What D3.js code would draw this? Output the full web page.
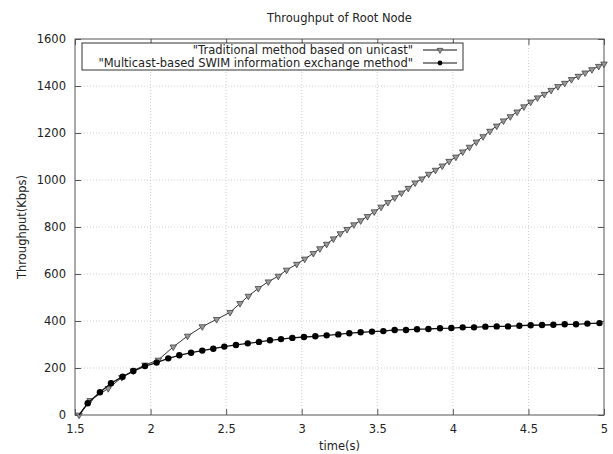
<!DOCTYPE html>
<html><head><meta charset="utf-8">
<script src="https://cdn.jsdelivr.net/npm/d3@7"></script>
<style>body{margin:0;background:#fff}svg{display:block}text{font-family:"DejaVu Sans",sans-serif;fill:#222}</style>
</head><body><svg id="c" width="613" height="454"></svg>
<script>
const title = "Throughput of Root Node";
const xLabel = "time(s)";
const yLabel = "Throughput(Kbps)";
const seriesNames = ["\"Traditional method based on unicast\"", "\"Multicast-based SWIM information exchange method\""];
const xTicks = [1.5, 2, 2.5, 3, 3.5, 4, 4.5, 5];
const yTicks = [0, 200, 400, 600, 800, 1000, 1200, 1400, 1600];

const tradTime = [1.527,1.60,1.72,1.81,1.886,1.963,2.051,2.15,2.245,2.342,2.437,2.526,2.592,2.647,2.713,2.779,2.845,2.90,2.967,3.02,3.077,3.12,3.165,3.21,3.255,3.30,3.345,3.39,3.435,3.48,3.525,3.57,3.615,3.66,3.705,3.75,3.795,3.84,3.885,3.93,3.975,4.02,4.065,4.11,4.155,4.20,4.245,4.29,4.335,4.38,4.425,4.47,4.515,4.56,4.605,4.65,4.695,4.74,4.785,4.83,4.875,4.92,4.965,5.0];
const tradValue = [0,62,113,160,188,213,234,290,336,376,407,437,475,506,539,567,591,617,642,664,688,708,727,750,772,790,810,827,845,865,885,905,925,945,965,988,1005,1025,1042,1060,1080,1098,1120,1140,1162,1185,1208,1230,1252,1270,1290,1312,1332,1350,1365,1382,1398,1412,1428,1442,1456,1470,1484,1494];

const mcTime = [1.527,1.584,1.665,1.738,1.815,1.886,1.963,2.04,2.117,2.19,2.268,2.342,2.415,2.488,2.565,2.643,2.717,2.79,2.863,2.938,3.015,3.09,3.165,3.242,3.315,3.39,3.465,3.54,3.615,3.69,3.763,3.838,3.915,3.99,4.065,4.14,4.215,4.29,4.365,4.44,4.515,4.59,4.665,4.74,4.815,4.89,4.97];
const mcValue = [0,50,97,135,163,187,208,223,241,254,265,274,282,291,298,305,311,318,323,328,332,335,339,343,348,352,355,357,362,362,365,366,369,370,373,373,376,377,377,380,382,383,384,386,386,389,391];

const FS = 11.5;
const svg = d3.select("#c");
const L = 75, R = 604, T = 39, B = 415;
const x = d3.scaleLinear().domain([1.5, 5]).range([L, R]);
const y = d3.scaleLinear().domain([0, 1600]).range([B, T]);

// grid
const g = svg.append("g");
g.selectAll(".gx").data(xTicks.slice(1, -1)).enter().append("line")
  .attr("x1", d => x(d)).attr("x2", d => x(d)).attr("y1", T).attr("y2", B)
  .attr("stroke", "#d0d0d0").attr("stroke-dasharray", "1,2");
g.selectAll(".gy").data(yTicks.slice(1, -1)).enter().append("line")
  .attr("y1", d => y(d)).attr("y2", d => y(d)).attr("x1", L).attr("x2", R)
  .attr("stroke", "#d0d0d0").attr("stroke-dasharray", "1,2");

// axes with inward ticks (mirrored)
const ax = (gen, tr) => svg.append("g").attr("transform", tr).call(gen)
  .call(s => s.select(".domain").remove());
ax(d3.axisBottom(x).tickValues(xTicks).tickSize(-6).tickPadding(10).tickFormat(d3.format("")), `translate(0,${B})`);
ax(d3.axisTop(x).tickValues(xTicks).tickSize(-6).tickFormat(""), `translate(0,${T})`);
ax(d3.axisLeft(y).tickValues(yTicks).tickSize(-6).tickPadding(9).tickFormat(d3.format("")), `translate(${L},0)`);
ax(d3.axisRight(y).tickValues(yTicks).tickSize(-6).tickFormat(""), `translate(${R},0)`);
svg.selectAll(".tick line").attr("stroke", "#555");
svg.selectAll(".tick text").attr("font-size", FS).attr("font-family", "DejaVu Sans").attr("fill", "#222");

svg.append("rect").attr("x", L).attr("y", T).attr("width", R - L).attr("height", B - T)
  .attr("fill", "none").attr("stroke", "#555").attr("stroke-width", 1);

const line = d3.line().x(d => x(d[0])).y(d => y(d[1]));
const trad = tradTime.map((t, i) => [t, tradValue[i]]);
const mc = mcTime.map((t, i) => [t, mcValue[i]]);

const triSym = d3.symbol().type(d3.symbolTriangle).size(18);
const plotG = svg.append("g");
plotG.append("path").attr("d", line(trad)).attr("fill", "none").attr("stroke", "#333").attr("stroke-width", 1);
plotG.selectAll(".tri").data(trad).enter().append("path").attr("d", triSym)
  .attr("transform", d => `translate(${x(d[0])},${y(d[1])}) rotate(180)`)
  .attr("fill", "#999").attr("stroke", "#444").attr("stroke-width", 0.8);
plotG.append("path").attr("d", line(mc)).attr("fill", "none").attr("stroke", "#111").attr("stroke-width", 1.3);
plotG.selectAll(".dot").data(mc.slice(1)).enter().append("circle")
  .attr("cx", d => x(d[0])).attr("cy", d => y(d[1])).attr("r", 3.2).attr("fill", "#000");

// legend
const lg = svg.append("g");
lg.append("rect").attr("x", 82).attr("y", 43).attr("width", 381).attr("height", 27)
  .attr("fill", "#fff").attr("stroke", "#333").attr("stroke-width", 1);
[50, 63].forEach((yy, i) => {
  lg.append("text").attr("x", 413).attr("y", yy).attr("dy", "0.35em").attr("text-anchor", "end")
    .attr("font-size", FS).text(seriesNames[i]);
  lg.append("line").attr("x1", 423).attr("x2", 457).attr("y1", yy).attr("y2", yy).attr("stroke", "#111").attr("stroke-width", 1.2);
  if (i === 0) lg.append("path").attr("d", d3.symbol().type(d3.symbolTriangle).size(14))
    .attr("transform", `translate(440,${yy}) rotate(180)`).attr("fill", "#999").attr("stroke", "#444").attr("stroke-width", 0.8);
  else lg.append("circle").attr("cx", 440).attr("cy", yy).attr("r", 2.4).attr("fill", "#000");
});

svg.append("text").attr("x", (L + R) / 2).attr("y", 18).attr("dy", "0.35em").attr("text-anchor", "middle").attr("font-size", FS).text(title);
svg.append("text").attr("x", (L + R) / 2).attr("y", 446).attr("dy", "0.35em").attr("text-anchor", "middle").attr("font-size", FS).text(xLabel);
svg.append("text").attr("transform", `translate(22,${(T + B) / 2}) rotate(-90)`).attr("dy", "0.35em").attr("text-anchor", "middle").attr("font-size", FS).text(yLabel);
</script></body></html>
